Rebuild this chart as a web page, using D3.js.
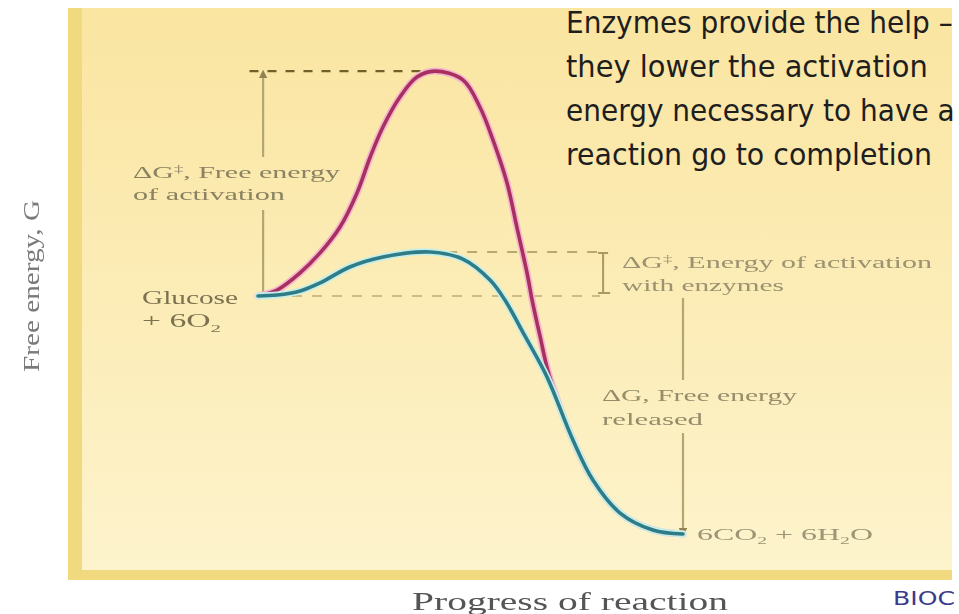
<!DOCTYPE html>
<html>
<head>
<meta charset="utf-8">
<script src="https://cdn.jsdelivr.net/npm/d3@7"></script>
<style>
  body { margin: 0; background: #fff; }
  svg { display: block; }
</style>
</head>
<body>
<div id="chart"></div>
<script>
const width = 959, height = 614;

// progress of reaction (0-100) and free energy (glucose + 6O2 = 100, products = 0)
const redProgress = [0, 4.5, 9.9, 14.6, 19.3, 23.3, 26.4, 29.4, 33.4, 37.4, 41.6, 48.2, 52.2, 55.3, 58.6, 60.9, 63.3, 64.5, 66.4, 68.5, 74.1, 78.8, 85.2, 92.9, 100];
const redEnergy = [100, 102.5, 109.7, 118.1, 129.0, 143.3, 158.4, 171.0, 183.6, 192.0, 194.5, 190.8, 179.4, 165.5, 147.5, 129.0, 109.7, 98.3, 82.8, 66.8, 39.5, 22.7, 8.8, 1.7, 0];
const blueProgress = [0, 4.5, 9.9, 14.6, 21.6, 29.4, 40.5, 48.2, 54.6, 58.1, 62.8, 68.0, 74.1, 78.8, 85.2, 92.9, 100];
const blueEnergy = [100, 100.4, 102.1, 105.5, 112.2, 116.4, 118.5, 115.5, 106.7, 98.3, 83.2, 66.0, 39.5, 22.7, 8.8, 1.7, 0];

const noteLines = ["Enzymes provide the help –", "they lower the activation", "energy necessary to have a", "reaction go to completion"];
const xTitle = "Progress of reaction";
const yTitle = "Free energy, G";

const x = d3.scaleLinear().domain([0, 100]).range([258, 683]);
const y = d3.scaleLinear().domain([0, 100]).range([534, 296]);

const svg = d3.select("#chart")
    .append("svg")
    .attr("width", width)
    .attr("height", height);

const defs = svg.append("defs");
const grad = defs.append("linearGradient")
    .attr("id", "panelFill")
    .attr("x1", 0).attr("y1", 0).attr("x2", 0).attr("y2", 1);
grad.append("stop").attr("offset", "0%").attr("stop-color", "#fae5a1");
grad.append("stop").attr("offset", "55%").attr("stop-color", "#fcedb8");
grad.append("stop").attr("offset", "100%").attr("stop-color", "#fdf3cc");

defs.append("filter").attr("id", "soft")
    .append("feGaussianBlur").attr("stdDeviation", 0.55);

defs.append("marker")
    .attr("id", "head")
    .attr("viewBox", "0 0 10 10")
    .attr("refX", 5).attr("refY", 5)
    .attr("markerWidth", 4).attr("markerHeight", 4)
    .attr("orient", "auto-start-reverse")
    .append("path")
    .attr("d", "M0,0L10,5L0,10z")
    .attr("fill", "#8f8450");

// panel with the darker L-shaped border
svg.append("rect")
    .attr("x", 68).attr("y", 8)
    .attr("width", 884).attr("height", 572)
    .attr("fill", "#f1d97f");
svg.append("rect")
    .attr("x", 82).attr("y", 8)
    .attr("width", 870).attr("height", 562)
    .attr("fill", "url(#panelFill)");

const glucoseG = blueEnergy[0];
const productG = blueEnergy[blueEnergy.length - 1];
const redPeak = d3.max(redEnergy);
const bluePeak = d3.max(blueEnergy);
const redPeakX = redProgress[d3.maxIndex(redEnergy)];
const bluePeakX = blueProgress[d3.maxIndex(blueEnergy)];

const guides = svg.append("g");

// dashed reference levels
guides.append("line")
    .attr("x1", x(-2)).attr("x2", x(redPeakX - 1))
    .attr("y1", y(redPeak)).attr("y2", y(redPeak))
    .attr("stroke", "#6f6128").attr("stroke-width", 2.2)
    .attr("stroke-dasharray", "9,9");
guides.append("line")
    .attr("x1", x(bluePeakX + 4)).attr("x2", x(80.5))
    .attr("y1", y(bluePeak)).attr("y2", y(bluePeak))
    .attr("stroke", "#b9a970").attr("stroke-width", 2)
    .attr("stroke-dasharray", "10,10");
guides.append("line")
    .attr("x1", x(8)).attr("x2", x(80.5))
    .attr("y1", y(glucoseG)).attr("y2", y(glucoseG))
    .attr("stroke", "#cdbd85").attr("stroke-width", 2)
    .attr("stroke-dasharray", "10,10");

// activation energy arrow (uncatalyzed)
const guideColor = "#b2a672";
guides.append("line")
    .attr("x1", x(1.2)).attr("x2", x(1.2))
    .attr("y1", 157).attr("y2", y(redPeak) + 3)
    .attr("stroke", guideColor).attr("stroke-width", 2.2)
    .attr("marker-end", "url(#head)");
guides.append("line")
    .attr("x1", x(1.2)).attr("x2", x(1.2))
    .attr("y1", 210).attr("y2", y(glucoseG))
    .attr("stroke", guideColor).attr("stroke-width", 2.2);

// bracket for activation energy with enzymes
const bx = x(81.2);
guides.append("path")
    .attr("d", `M${bx - 5},${y(bluePeak) + 1}H${bx + 5}M${bx},${y(bluePeak) + 1}V${y(glucoseG) - 3}M${bx - 5},${y(glucoseG) - 3}H${bx + 7}`)
    .attr("fill", "none")
    .attr("stroke", "#a89a62").attr("stroke-width", 2);

// free energy released arrow
guides.append("line")
    .attr("x1", x(100)).attr("x2", x(100))
    .attr("y1", y(glucoseG) + 2).attr("y2", 380)
    .attr("stroke", guideColor).attr("stroke-width", 2.2);
guides.append("line")
    .attr("x1", x(100)).attr("x2", x(100))
    .attr("y1", 433).attr("y2", y(productG) - 2)
    .attr("stroke", guideColor).attr("stroke-width", 2.2)
    .attr("marker-end", "url(#head)");

// energy curves
const line = d3.line()
    .x(d => x(d[0]))
    .y(d => y(d[1]))
    .curve(d3.curveCatmullRom.alpha(0.5));

const redData = d3.zip(redProgress, redEnergy);
const blueData = d3.zip(blueProgress, blueEnergy);

const curves = svg.append("g").attr("fill", "none").attr("stroke-linecap", "round");
curves.append("path").attr("d", line(redData))
    .attr("stroke", "#f4b6cf").attr("stroke-width", 7);
curves.append("path").attr("d", line(redData))
    .attr("stroke", "#a8305f").attr("stroke-width", 3.6);
curves.append("path").attr("d", line(blueData))
    .attr("stroke", "#c6eeea").attr("stroke-width", 7);
curves.append("path").attr("d", line(blueData))
    .attr("stroke", "#2f7c86").attr("stroke-width", 3.6);

// labels
const labels = svg.append("g")
    .attr("font-family", "'Liberation Serif', 'DejaVu Serif', serif")
    .attr("fill", "#8a8262")
    .attr("filter", "url(#soft)");

function addLabel(parts, lx, ly, len, size, color) {
    const t = labels.append("text")
        .attr("x", lx).attr("y", ly)
        .attr("font-size", size)
        .attr("textLength", len)
        .attr("lengthAdjust", "spacingAndGlyphs");
    if (color) t.attr("fill", color);
    parts.forEach(p => {
        const s = t.append("tspan").text(p.text);
        if (p.sup) s.attr("font-size", size * 0.62).attr("dy", -size * 0.38);
        if (p.sub) s.attr("font-size", size * 0.62).attr("dy", size * 0.25);
        if (p.back) s.attr("dy", p.back);
    });
    return t;
}

addLabel([{ text: "ΔG" }, { text: "‡", sup: true }, { text: ", Free energy", back: 17 * 0.38 }], 133, 178, 207, 17);
addLabel([{ text: "of activation" }], 133, 200, 152, 17);
addLabel([{ text: "Glucose" }], 142, 304, 96, 18, "#7b7250");
addLabel([{ text: "+ 6O" }, { text: "2", sub: true }], 142, 327, 79, 18, "#7b7250");
addLabel([{ text: "ΔG" }, { text: "‡", sup: true }, { text: ", Energy of activation", back: 16 * 0.38 }], 622, 268, 310, 16, "#9a9270");
addLabel([{ text: "with enzymes" }], 622, 291, 162, 16, "#9a9270");
addLabel([{ text: "ΔG, Free energy" }], 602, 401, 195, 16, "#958c6a");
addLabel([{ text: "released" }], 602, 425, 101, 16, "#958c6a");
addLabel([{ text: "6CO" }, { text: "2", sub: true }, { text: " + 6H", back: -16 * 0.25 }, { text: "2", sub: true }, { text: "O", back: -16 * 0.25 }], 697, 540, 176, 16, "#9d9574");

// axis titles
svg.append("text")
    .attr("x", 412).attr("y", 610)
    .attr("font-family", "'Liberation Serif', serif")
    .attr("font-size", 25)
    .attr("fill", "#555")
    .attr("textLength", 316)
    .attr("lengthAdjust", "spacingAndGlyphs")
    .attr("filter", "url(#soft)")
    .text(xTitle);

svg.append("text")
    .attr("transform", "translate(39,286) rotate(-90)")
    .attr("text-anchor", "middle")
    .attr("font-family", "'Liberation Serif', serif")
    .attr("font-size", 24)
    .attr("fill", "#7a7a7a")
    .attr("textLength", 172)
    .attr("lengthAdjust", "spacingAndGlyphs")
    .attr("filter", "url(#soft)")
    .text(yTitle);

// note text, squeezed horizontally to the widths seen in the picture
const noteLengths = [387, 362, 389, 366];
const note = svg.append("g")
    .attr("font-family", "'Comic Sans MS', 'DejaVu Sans', sans-serif")
    .attr("font-size", 31)
    .attr("fill", "#1e1e1e");
noteLines.forEach((txt, i) => {
    const g = note.append("g");
    const t = g.append("text").attr("x", 0).attr("y", 0).text(txt);
    const natural = t.node().getComputedTextLength();
    g.attr("transform", `translate(566,${33 + i * 44}) scale(${noteLengths[i] / natural},1)`);
});

svg.append("text")
    .attr("x", 893).attr("y", 605)
    .attr("font-family", "'DejaVu Sans', sans-serif")
    .attr("font-size", 19)
    .attr("fill", "#3b3b8c")
    .attr("textLength", 62)
    .attr("lengthAdjust", "spacingAndGlyphs")
    .text("BIOC");
</script>
</body>
</html>
